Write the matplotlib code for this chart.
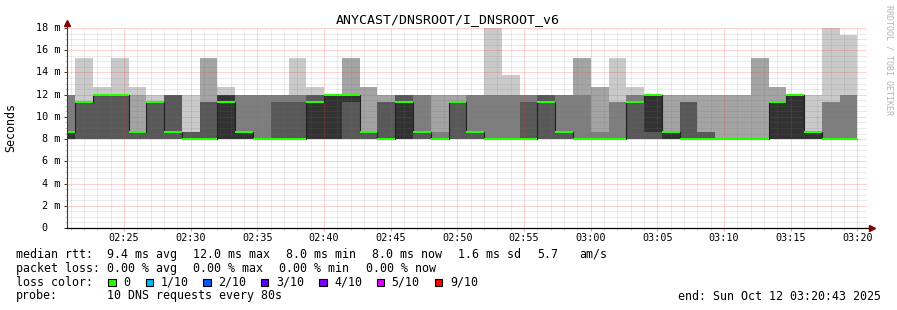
import numpy as np
import matplotlib
matplotlib.use("Agg")
import matplotlib.pyplot as plt
from matplotlib.patches import Rectangle

# ---------------- data (ms), one value per 80 s step ----------------
ping1 = [8.0] * 45
ping2 = [8.0] * 45
ping3 = [8.0] * 45
ping4 = [8, 8, 8, 8, 8, 8, 8, 8, 8, 8, 8, 8, 8, 8, 8, 8, 8, 8, 8, 8, 8, 8.67, 8,
         8, 8, 8, 8, 8, 8, 8, 8, 8, 8, 8, 8, 8, 8, 8, 8, 8, 8, 8, 8, 8, 8]
ping5 = [8, 11.33, 12, 12, 8.67, 11.33, 8.67, 8, 8, 8, 8, 8, 8, 8, 8, 8, 11.33, 8.67, 8, 8, 8.67, 8.67, 11.33,
         8.67, 8, 8, 8, 11.33, 8.67, 8, 8, 8, 11.33, 8.67, 8, 8, 8, 8, 8, 8, 8, 8, 8, 8, 8]
ping6 = [8.67, 11.33, 12, 12, 8.67, 11.33, 8.67, 8, 8, 12, 8.67, 8, 8, 8, 11.33, 12, 12, 8.67, 8, 11.33, 8.67, 8.67, 11.33,
         8.67, 8, 8, 8, 11.33, 8.67, 8, 8, 8, 11.33, 12, 8.67, 8, 8, 8, 8, 8, 11.33, 12, 8.67, 8, 8]
ping7 = [8.67, 11.33, 12, 12, 8.67, 11.33, 12, 8.67, 11.33, 12, 8.67, 8, 11.33, 11.33, 12, 12, 12, 8.67, 11.33, 12, 8.67, 8.67, 11.33,
         8.67, 8, 8, 11.33, 12, 8.67, 8, 8, 8, 11.33, 12, 8.67, 11.33, 8.67, 8, 8, 8, 11.33, 12, 8.67, 8, 8]
ping8 = [12, 11.33, 12, 12, 8.67, 11.33, 12, 8.67, 11.33, 12, 12, 12, 12, 12, 12, 12, 12, 8.67, 11.33, 12, 12, 8.67, 11.33,
         12, 12, 12, 12, 12, 12, 12, 8.67, 11.33, 12, 12, 8.67, 11.33, 8.67, 8, 8, 8, 11.33, 12, 8.67, 11.33, 12]
ping9 = [12, 11.33, 12, 12, 12, 11.33, 12, 8.67, 15.33, 12, 12, 12, 12, 12, 12, 12, 15.33, 12.67, 12, 12, 12, 12, 12,
         12, 12, 12, 12, 12, 12, 15.33, 12.67, 11.33, 12, 12, 12, 12, 12, 12, 12, 15.33, 12.67, 12, 8.67, 11.33, 12]
ping10 = [12, 15.33, 12.67, 15.33, 12.67, 12, 12, 12, 15.33, 12.67, 12, 12, 12, 15.33, 12.67, 12, 15.33, 12.67, 12, 12, 12, 12, 12,
          12, 18, 13.8, 12, 12, 12, 15.33, 12.67, 15.33, 12.67, 12, 12, 12, 12, 12, 12, 15.33, 12.67, 12, 12, 18, 17.33]
median = [8.67, 11.33, 12, 12, 8.67, 11.33, 8.67, 8, 8, 11.33, 8.67, 8, 8, 8, 11.33, 12, 12, 8.67, 8, 11.33, 8.67, 8, 11.33,
          8.67, 8, 8, 8, 11.33, 8.67, 8, 8, 8, 11.33, 12, 8.67, 8, 8, 8, 8, 8, 11.33, 12, 8.67, 8, 8]

title = "ANYCAST/DNSROOT/I_DNSROOT_v6"
graph_start_min = 2 * 60 + 20 + 43 / 60.0      # 02:20:43
graph_len_min = 60.0
last_step_end_min = 3 * 60 + 20.0              # 03:20:00
step_min = 80 / 60.0
y_ticks = [0, 2, 4, 6, 8, 10, 12, 14, 16, 18]
y_labels = ["0", "2 m", "4 m", "6 m", "8 m", "10 m", "12 m", "14 m", "16 m", "18 m"]
x_tick_min = [145 + 5 * i for i in range(12)]
x_labels = ["02:25", "02:30", "02:35", "02:40", "02:45", "02:50", "02:55",
            "03:00", "03:05", "03:10", "03:15", "03:20"]
loss_labels = ["0", "1/10", "2/10", "3/10", "4/10", "5/10", "9/10"]
loss_colors = ["#26ff00", "#00b8ff", "#0059ff", "#5e00ff", "#7e00ff", "#dd00ff", "#ff0000"]
smoke_colors = ["#cacaca", "#a4a4a4", "#7e7e7e", "#585858", "#323232"]

# ---------------- figure ----------------
W, H = 897, 310
MONO = "DejaVu Sans Mono"
plt.rcParams["font.family"] = [MONO, "DejaVu Sans"]
fig = plt.figure(figsize=(W / 100, H / 100), dpi=100)
fig.patch.set_facecolor("white")
ax = fig.add_axes([67 / W, (H - 228) / H, 800 / W, 200 / H])
ax.set_facecolor("white")

def fx(x):
    return x / W

def fy(y):
    return 1 - y / H

n = len(median)
t_start = graph_start_min
t_end = graph_start_min + graph_len_min
full_edges = last_step_end_min - step_min * np.arange(n - 1, -1, -1)
edges = np.concatenate([[t_start], full_edges])

pings = [np.array(p, float) for p in (ping1, ping2, ping3, ping4, ping5,
                                      ping6, ping7, ping8, ping9, ping10)]
for i in range(5):
    lo = pings[i]
    hi = pings[9 - i]
    ax.stairs(hi, edges, baseline=lo, fill=True, color=smoke_colors[i],
              lw=0, zorder=2)

med = np.array(median, float)
ax.stairs(med, edges, baseline=None, color="#202020", lw=0.8, zorder=3)
ax.stairs(med + 0.1, edges, baseline=med - 0.1, fill=True, color=loss_colors[0],
          lw=0, zorder=4)

ax.set_xlim(t_start, t_end)
ax.set_ylim(0, 18)
ax.set_xticks(x_tick_min)
ax.set_xticks(np.arange(141, 201, 1), minor=True)
ax.set_yticks(y_ticks)
ax.set_yticks(np.arange(0, 18.01, 0.5), minor=True)
ax.set_axisbelow(False)
ax.grid(which="minor", color="#707070", alpha=0.28, ls=(0, (1, 1)), lw=0.72)
ax.grid(which="major", color="#ff3030", alpha=0.42, ls=(0, (1, 1)), lw=0.72)
ax.tick_params(labelleft=False, labelbottom=False)
ax.tick_params(axis="x", which="major", length=2.2, width=0.75, color="#f09090", direction="out")
ax.tick_params(axis="x", which="minor", length=1.4, width=0.75, color="#c8c8c8", direction="out")
ax.tick_params(axis="y", which="major", length=2.2, width=0.75, color="#404040", direction="out")
ax.tick_params(axis="y", which="minor", length=1.4, width=0.75, color="#c8c8c8", direction="out")
for s in ax.spines.values():
    s.set_visible(False)

# axis lines and arrows
ax.plot([0, 0], [0, 1.02], transform=ax.transAxes, clip_on=False,
        color="#3a3a3a", lw=0.8, zorder=6)
ax.plot([0, 1.004], [0, 0], transform=ax.transAxes, clip_on=False,
        color="#000000", lw=0.9, zorder=6)
ax.plot([0], [1.025], transform=ax.transAxes, clip_on=False, marker="^",
        ms=4.2, color="#7f0000", mec="#7f0000", zorder=7)
ax.plot([1.0065], [0], transform=ax.transAxes, clip_on=False, marker=">",
        ms=4.2, color="#7f0000", mec="#7f0000", zorder=7)

# tick labels
tick_fs = 7.3
for v, lab in zip(y_ticks, y_labels):
    ypx = 228 - v * 200 / 18
    xr = 47.5 if lab == "0" else 60
    fig.text(fx(xr), fy(ypx), lab, ha="right", va="center", fontsize=tick_fs, family=MONO)
for t, lab in zip(x_tick_min, x_labels):
    xpx = 67 + (t - t_start) / graph_len_min * 800
    fig.text(fx(xpx), fy(237.8), lab, ha="center", va="center", fontsize=tick_fs, family=MONO)

# title, axis label, watermark
fig.text(fx(447.5), fy(20), title, ha="center", va="center", fontsize=9.5, family=MONO)
fig.text(fx(11), fy(127.5), "Seconds", ha="center", va="center", rotation=90,
         fontsize=8.4, family=MONO)
fig.text(fx(888.5), fy(60), "RRDTOOL / TOBI OETIKER", ha="center", va="center",
         rotation=270, fontsize=6.0, family=MONO, color="#b4b4b4")

# legend / stats
lf = 8.4
def txt(x, y, s, ha="left"):
    fig.text(fx(x), fy(y), s, ha=ha, va="center", fontsize=lf, family=MONO)

y1, y2, y3, y4 = 254.3, 268.3, 282.3, 296.0
txt(16, y1, "median rtt:")
txt(107, y1, "9.4 ms avg")
txt(193.3, y1, "12.0 ms max")
txt(286, y1, "8.0 ms min")
txt(372, y1, "8.0 ms now")
txt(458.3, y1, "1.6 ms sd")
txt(537.3, y1, "5.7")
txt(579.3, y1, "am/s")

txt(16, y2, "packet loss:")
txt(107, y2, "0.00 % avg")
txt(193.3, y2, "0.00 % max")
txt(279.3, y2, "0.00 % min")
txt(365.7, y2, "0.00 % now")

txt(16, y3, "loss color:")
sq_x = [108.3, 145.7, 203.3, 261.0, 319.3, 376.7, 435.0]
lb_x = [123.3, 160.3, 218.3, 276.0, 334.0, 391.7, 450.0]
for sx, lx, lab, col in zip(sq_x, lb_x, loss_labels, loss_colors):
    fig.patches.append(Rectangle((fx(sx), fy(y3 + 3.6)), 7.2 / W, 7.2 / H,
                                 transform=fig.transFigure, facecolor=col,
                                 edgecolor="black", lw=0.8))
    txt(lx, y3, lab)

txt(16, y4, "probe:")
txt(107.3, y4, "10 DNS requests every 80s")
txt(880.7, y4, "end: Sun Oct 12 03:20:43 2025", ha="right")

fig.savefig("out.png", dpi=100, facecolor="white")
